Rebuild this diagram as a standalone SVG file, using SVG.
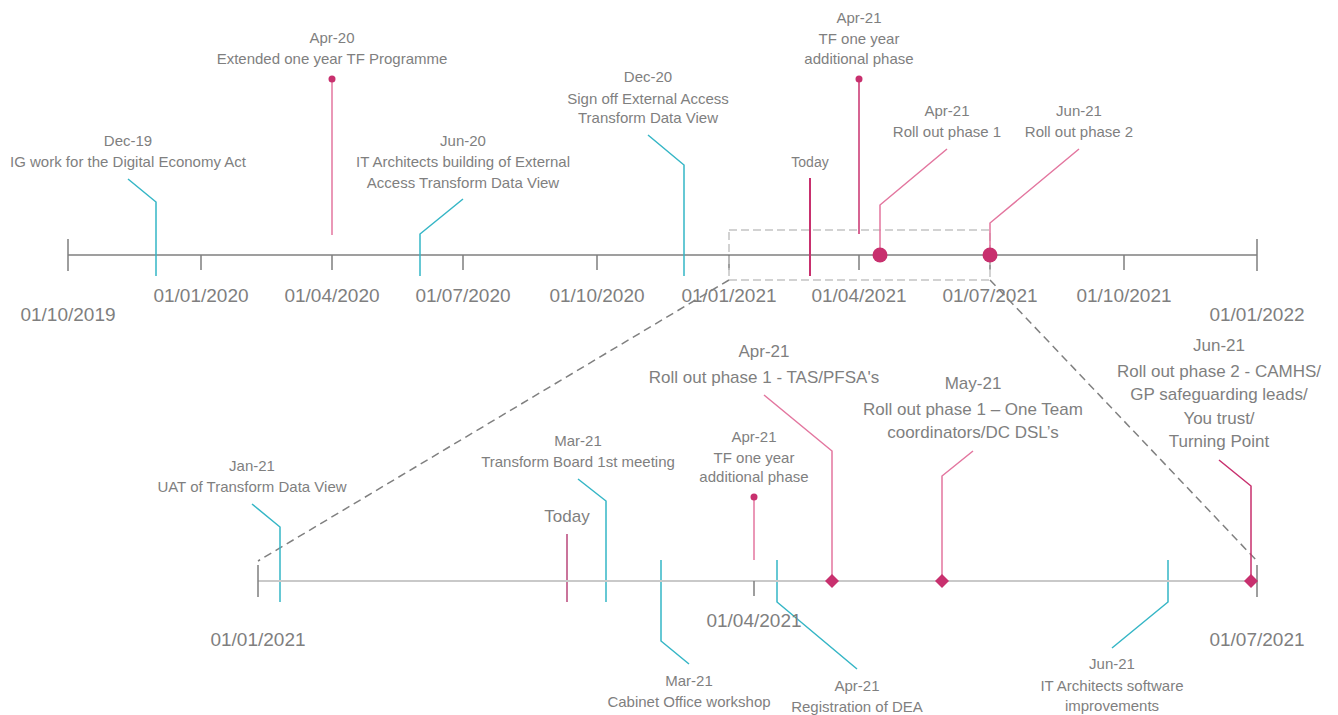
<svg xmlns="http://www.w3.org/2000/svg" width="1338" height="715" viewBox="0 0 1338 715">
<style>
text{font-family:"Liberation Sans",Arial,sans-serif;fill:#7f7f7f;text-anchor:middle}
.s{font-size:15px}.m{font-size:14px}.l{font-size:17px}.d{font-size:19px}
.teal{stroke:#35b6c6;stroke-width:1.5;fill:none}
.pink{stroke:#e3769f;stroke-width:1.5;fill:none}
.mag{stroke:#c8306e;stroke-width:1.5;fill:none}
.axis{stroke:#7f7f7f;stroke-width:1.5;fill:none}
.axis2{stroke:#c9c9c9;stroke-width:2;fill:none}
.dot{fill:#c8306e}
.dash1{stroke:#c4c4c4;stroke-width:1.5;stroke-dasharray:8 4;fill:none}
.dash2{stroke:#808080;stroke-width:1.5;stroke-dasharray:8 5;fill:none}
</style>
<g id="top-axis">
<line class="axis" x1="68" y1="255" x2="1257" y2="255"/>
<path class="axis" d="M68 239V271M1257 239V271M201 255V270M332 255V270M463 255V270M597 255V270M729 255V270M859 255V270M990 255V270M1124 255V270"/>
<text class="d" x="68" y="321">01/10/2019</text>
<text class="d" x="201" y="302">01/01/2020</text>
<text class="d" x="332" y="302">01/04/2020</text>
<text class="d" x="463" y="302">01/07/2020</text>
<text class="d" x="597" y="302">01/10/2020</text>
<text class="d" x="729" y="302">01/01/2021</text>
<text class="d" x="859" y="302">01/04/2021</text>
<text class="d" x="990" y="302">01/07/2021</text>
<text class="d" x="1124" y="302">01/10/2021</text>
<text class="d" x="1257" y="321">01/01/2022</text>
</g>
<g id="zoom-connectors">
<rect class="dash1" x="729" y="230" width="261" height="50"/>
<line class="dash2" x1="729" y1="280" x2="258" y2="561"/>
<line class="dash2" x1="990" y1="280" x2="1257" y2="561"/>
</g>
<g id="connectors">
<path class="teal" d="M128 179L156 202V276"/>
<path class="pink" d="M332 79V235"/>
<path class="teal" d="M420 276V234L463 199"/>
<path class="teal" d="M648 135L684 165V276"/>
<line x1="810" y1="178" x2="810" y2="276" stroke="#c8306e" stroke-width="2"/>
<path class="mag" d="M859 79V234"/>
<path class="pink" d="M947 149L880 205V255"/>
<path class="pink" d="M1079 149L990 223V255"/>
<path class="teal" d="M252 504L280 527V602"/>
<line x1="567" y1="534" x2="567" y2="602" stroke="#b8467a" stroke-width="1.5"/>
<path class="teal" d="M578 479L606 501V602"/>
<path class="teal" d="M661 560V641L689 664"/>
<path class="pink" d="M754 497V560"/>
<path class="teal" d="M777 560V602L857 669"/>
<path class="pink" d="M764 395L832 451V581"/>
<path class="pink" d="M973 451L942 476V581"/>
<path class="mag" d="M1219 460L1251 486V581"/>
<path class="teal" d="M1168 560V602L1112 648"/>
</g>
<g id="bottom-axis">
<line class="axis2" x1="258" y1="581" x2="1257" y2="581"/>
<path class="axis" d="M258 565V597M1257 565V597M754 581V596"/>
<text class="d" x="258" y="646">01/01/2021</text>
<text class="d" x="754" y="627">01/04/2021</text>
<text class="d" x="1257" y="646">01/07/2021</text>
</g>
<g id="dec19"><text class="s" x="128" y="146">Dec-19</text><text class="s" x="128" y="167">IG work for the Digital Economy Act</text></g>
<g id="apr20"><circle class="dot" cx="332" cy="79" r="3.5"/><text class="s" x="332" y="43">Apr-20</text><text class="s" x="332" y="64">Extended one year TF Programme</text></g>
<g id="jun20"><text class="s" x="463" y="146">Jun-20</text><text class="s" x="463" y="167">IT Architects building of External</text><text class="s" x="463" y="188">Access Transform Data View</text></g>
<g id="dec20"><text class="s" x="648" y="82">Dec-20</text><text class="s" x="648" y="104">Sign off External Access</text><text class="s" x="648" y="123">Transform Data View</text></g>
<g id="today-top"><text class="m" x="810" y="167">Today</text></g>
<g id="apr21-tf-top"><circle class="dot" cx="859" cy="79" r="3.5"/><text class="s" x="859" y="23">Apr-21</text><text class="s" x="859" y="44">TF one year</text><text class="s" x="859" y="64">additional phase</text></g>
<g id="apr21-rollout1-top"><circle class="dot" cx="880" cy="255" r="7.5"/><text class="s" x="947" y="116">Apr-21</text><text class="s" x="947" y="137">Roll out phase 1</text></g>
<g id="jun21-rollout2-top"><circle class="dot" cx="990" cy="255" r="7.5"/><text class="s" x="1079" y="116">Jun-21</text><text class="s" x="1079" y="137">Roll out phase 2</text></g>
<g id="jan21"><text class="s" x="252" y="471">Jan-21</text><text class="s" x="252" y="492">UAT of Transform Data View</text></g>
<g id="today-bottom"><text class="l" x="567" y="522">Today</text></g>
<g id="mar21-board"><text class="s" x="578" y="446">Mar-21</text><text class="s" x="578" y="467">Transform Board 1st meeting</text></g>
<g id="mar21-cabinet"><text class="s" x="689" y="686">Mar-21</text><text class="s" x="689" y="707">Cabinet Office workshop</text></g>
<g id="apr21-tf-bottom"><circle class="dot" cx="754" cy="497" r="3.5"/><text class="s" x="754" y="442">Apr-21</text><text class="s" x="754" y="463">TF one year</text><text class="s" x="754" y="482">additional phase</text></g>
<g id="apr21-dea"><text class="s" x="857" y="691">Apr-21</text><text class="s" x="857" y="712">Registration of DEA</text></g>
<g id="apr21-rollout1-bottom"><path class="dot" d="M832 574L839 581L832 588L825 581Z"/><text class="l" x="764" y="357">Apr-21</text><text class="l" x="764" y="383">Roll out phase 1 - TAS/PFSA's</text></g>
<g id="may21-rollout1"><path class="dot" d="M942 574L949 581L942 588L935 581Z"/><text class="l" x="973" y="389">May-21</text><text class="l" x="973" y="415">Roll out phase 1 – One Team</text><text class="l" x="973" y="438">coordinators/DC DSL’s</text></g>
<g id="jun21-rollout2-bottom"><path class="dot" d="M1251 574L1258 581L1251 588L1244 581Z"/><text class="l" x="1219" y="351">Jun-21</text><text class="l" x="1219" y="377">Roll out phase 2 - CAMHS/</text><text class="l" x="1219" y="400">GP safeguarding leads/</text><text class="l" x="1219" y="424">You trust/</text><text class="l" x="1219" y="447">Turning Point</text></g>
<g id="jun21-software"><text class="s" x="1112" y="669">Jun-21</text><text class="s" x="1112" y="691">IT Architects software</text><text class="s" x="1112" y="711">improvements</text></g>
</svg>
